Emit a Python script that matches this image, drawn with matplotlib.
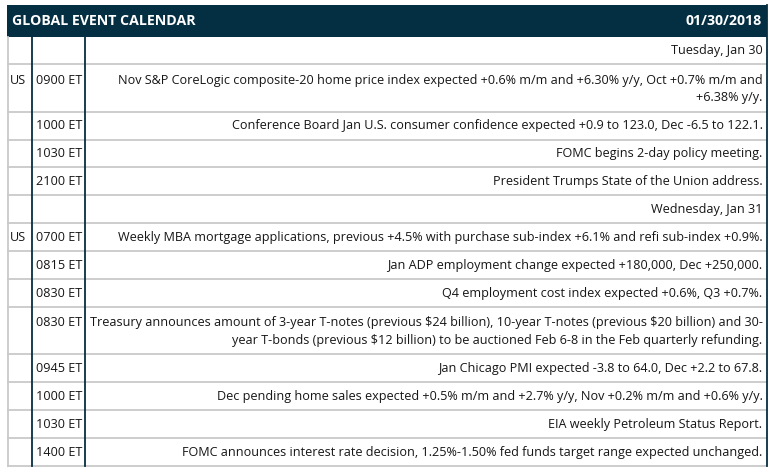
import matplotlib
matplotlib.use("Agg")
import matplotlib.pyplot as plt

title = "GLOBAL EVENT CALENDAR"
date_label = "01/30/2018"

countries = ["", "US", "", "", "", "", "US", "", "", "", "", "", "", ""]
times = ["", "0900 ET", "1000 ET", "1030 ET", "2100 ET", "", "0700 ET", "0815 ET",
         "0830 ET", "0830 ET", "0945 ET", "1000 ET", "1030 ET", "1400 ET"]
events = [
    "Tuesday, Jan 30",
    "Nov S&P CoreLogic composite-20 home price index expected +0.6% m/m and +6.30% y/y, Oct +0.7% m/m and\n+6.38% y/y.",
    "Conference Board Jan U.S. consumer confidence expected +0.9 to 123.0, Dec -6.5 to 122.1.",
    "FOMC begins 2-day policy meeting.",
    "President Trumps State of the Union address.",
    "Wednesday, Jan 31",
    "Weekly MBA mortgage applications, previous +4.5% with purchase sub-index +6.1% and refi sub-index +0.9%.",
    "Jan ADP employment change expected +180,000, Dec +250,000.",
    "Q4 employment cost index expected +0.6%, Q3 +0.7%.",
    "Treasury announces amount of 3-year T-notes (previous $24 billion), 10-year T-notes (previous $20 billion) and 30-\nyear T-bonds (previous $12 billion) to be auctioned Feb 6-8 in the Feb quarterly refunding.",
    "Jan Chicago PMI expected -3.8 to 64.0, Dec +2.2 to 67.8.",
    "Dec pending home sales expected +0.5% m/m and +2.7% y/y, Nov +0.2% m/m and +0.6% y/y.",
    "EIA weekly Petroleum Status Report.",
    "FOMC announces interest rate decision, 1.25%-1.50% fed funds target range expected unchanged.",
]

W, H = 772, 474
fig = plt.figure(figsize=(W / 100, H / 100), dpi=100)
ax = fig.add_axes([0, 0, 1, 1])
ax.set_xlim(0, W)
ax.set_ylim(H, 0)
ax.axis("off")

FONT = "Open Sans"
FS = 9.05
NAVY = "#042e42"
GRID = "#c9c9c9"
TXT = "#161616"

x0, x1 = 7, 767
c1, c2 = 31.5, 84.5
hdr_top, hdr_bot = 5, 36.5

ax.add_patch(plt.Rectangle((x0, hdr_top), x1 - x0, hdr_bot - hdr_top, color=NAVY, lw=0))
ax.text(12, (hdr_top + hdr_bot) / 2 + 0.5, title, color="white", fontsize=10.2,
        fontweight="bold", family=FONT, ha="left", va="center", parse_math=False)
ax.text(762, (hdr_top + hdr_bot) / 2 + 0.5, date_label, color="white", fontsize=10.2,
        fontweight="bold", family=FONT, ha="right", va="center", parse_math=False)

y = hdr_bot
line_h = 17.5
base_h = 27.9
extra_h = 19.3
for ctry, tm, ev in zip(countries, times, events):
    lines = ev.split("\n")
    n = len(lines)
    h = base_h + extra_h * (n - 1)
    ty = y + 14.3 + (1.5 if n > 1 else 0)
    ax.text(10, ty, ctry, fontsize=FS, family=FONT, color=TXT, ha="left", va="center", parse_math=False)
    ax.text(36, ty, tm, fontsize=FS, family=FONT, color=TXT, ha="left", va="center", parse_math=False)
    for i, ln in enumerate(lines):
        ax.text(762.5, ty + i * line_h, ln, fontsize=FS, family=FONT, color=TXT,
                ha="right", va="center", parse_math=False)
    y += h
    ax.plot([x0, x1], [y, y], color=GRID, lw=1.3, solid_capstyle="butt")

bottom = y
ax.plot([x0 + 0.5, x0 + 0.5], [hdr_bot, bottom], color=GRID, lw=1.3)
for cx in (c1, c2):
    ax.plot([cx, cx], [hdr_bot, bottom], color=NAVY, lw=1.3)
ax.plot([x1 - 0.5, x1 - 0.5], [hdr_top, bottom], color=NAVY, lw=1.3)

fig.savefig("out.png", dpi=100, facecolor="white")
